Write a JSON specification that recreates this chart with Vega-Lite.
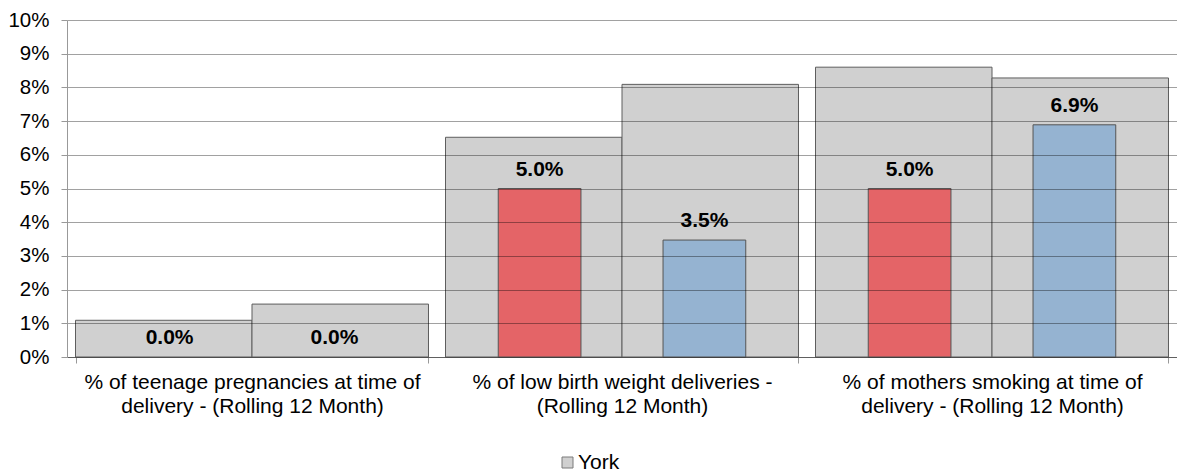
{
  "$schema": "https://vega.github.io/schema/vega-lite/v6.json",
  "autosize": "none",
  "width": 1110,
  "height": 337,
  "padding": {"left": 67, "top": 20, "right": 0, "bottom": 116},
  "background": "white",
  "config": {
    "font": "Liberation Sans",
    "view": {"stroke": null},
    "axis": {"labelFont": "Liberation Sans", "labelColor": "#000000", "title": null}
  },
  "data": {
    "values": [
      {"cat": "teen", "series": "P1", "york": 0.0109, "value": 0.0, "status": "worse"},
      {"cat": "teen", "series": "P2", "york": 0.0157, "value": 0.0, "status": "better"},
      {"cat": "lbw", "series": "P1", "york": 0.0652, "value": 0.050, "status": "worse"},
      {"cat": "lbw", "series": "P2", "york": 0.0809, "value": 0.0347, "status": "better"},
      {"cat": "smoke", "series": "P1", "york": 0.0860, "value": 0.050, "status": "worse"},
      {"cat": "smoke", "series": "P2", "york": 0.0828, "value": 0.0689, "status": "better"}
    ]
  },
  "encoding": {
    "x": {
      "field": "cat",
      "type": "nominal",
      "sort": ["teen", "lbw", "smoke"],
      "scale": {"paddingInner": 0.046, "paddingOuter": 0.023},
      "axis": {
        "labelAngle": 0,
        "labelExpr": "datum.value == 'teen' ? ['% of teenage pregnancies at time of', 'delivery - (Rolling 12 Month)'] : datum.value == 'lbw' ? ['% of low birth weight deliveries -', '(Rolling 12 Month)'] : datum.value == 'smoke' ? ['% of mothers smoking at time of', 'delivery - (Rolling 12 Month)'] : ''",
        "labelFontSize": 21,
        "labelLineHeight": 24,
        "labelBaseline": "top",
        "labelPadding": 8,
        "labelLimit": 0,
        "labelOverlap": false,
        "tickBand": "extent",
        "tickSize": 6,
        "tickColor": "#999999",
        "domainColor": "#999999",
        "grid": false
      }
    },
    "y": {
      "type": "quantitative",
      "scale": {"domain": [0, 0.1], "nice": false},
      "axis": {
        "values": [0, 0.01, 0.02, 0.03, 0.04, 0.05, 0.06, 0.07, 0.08, 0.09, 0.1],
        "format": ".0%",
        "labelFontSize": 20.5,
        "labelPadding": 12,
        "labelOverlap": false,
        "tickSize": 6,
        "tickColor": "#999999",
        "domainColor": "#999999",
        "grid": true,
        "gridColor": "#000000",
        "gridOpacity": 0.37,
        "zindex": 1
      }
    }
  },
  "layer": [
    {
      "mark": {"type": "bar", "stroke": "#5e5e5e", "strokeWidth": 1},
      "encoding": {
        "xOffset": {"field": "series", "type": "nominal", "scale": {"paddingInner": 0, "paddingOuter": 0}},
        "y": {"field": "york"},
        "color": {
          "datum": "York",
          "scale": {"range": ["#d0d0d0"]},
          "legend": {
            "orient": "none",
            "legendX": 490,
            "legendY": 432,
            "title": null,
            "symbolType": "square",
            "symbolSize": 121,
            "symbolStrokeColor": "#7a7a7a",
            "symbolStrokeWidth": 1,
            "labelFontSize": 21,
            "labelFont": "Liberation Sans",
            "labelOffset": 0
          }
        }
      }
    },
    {
      "mark": {"type": "bar", "stroke": "#555555", "strokeWidth": 1},
      "encoding": {
        "xOffset": {"field": "series", "type": "nominal", "scale": {"paddingInner": 0.498, "paddingOuter": 0.32}},
        "y": {"field": "value"},
        "strokeOpacity": {"condition": {"test": "datum.value > 0", "value": 1}, "value": 0},
        "color": {
          "field": "status",
          "type": "nominal",
          "scale": {"domain": ["worse", "better"], "range": ["#e46467", "#95b3d1"]},
          "legend": null
        }
      }
    },
    {
      "mark": {"type": "text", "fontWeight": "bold", "fontSize": 21, "baseline": "alphabetic", "dy": -13, "color": "#000000"},
      "encoding": {
        "xOffset": {"field": "series", "type": "nominal", "scale": {"type": "band", "paddingInner": 0.498, "paddingOuter": 0.32}},
        "y": {"field": "value"},
        "text": {"field": "value", "type": "quantitative", "format": ".1%"}
      }
    }
  ],
  "resolve": {"scale": {"xOffset": "independent", "color": "independent"}}
}
